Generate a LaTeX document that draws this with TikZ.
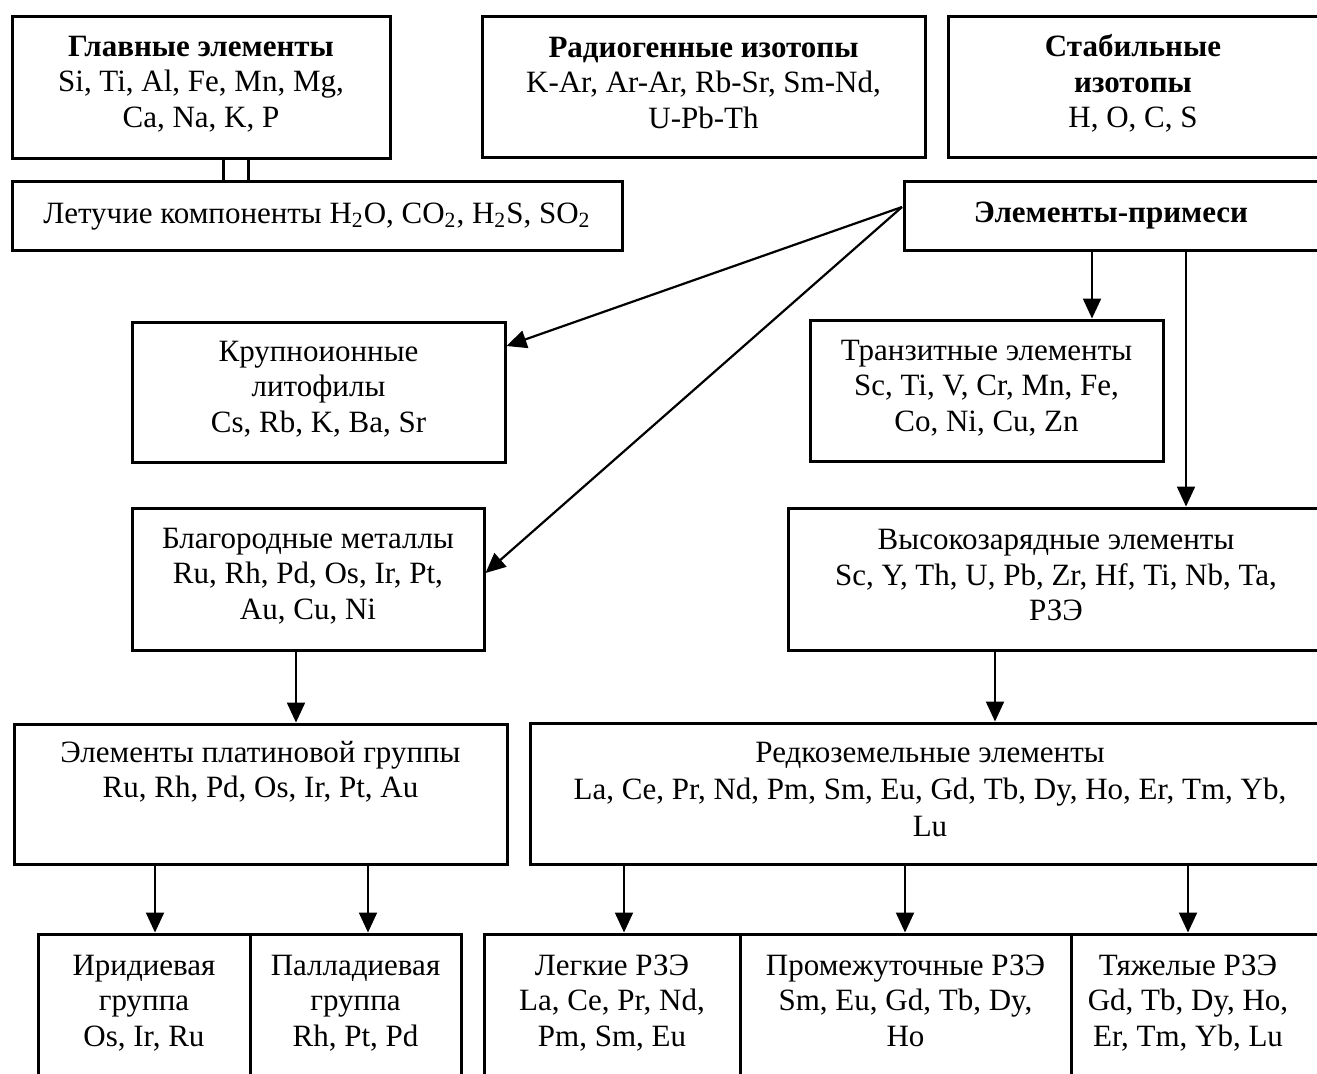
\documentclass[tikz,border=0pt]{standalone}
\usepackage{fontspec}
\setmainfont{Liberation Serif}
\usetikzlibrary{fit,arrows.meta}
\begin{document}
\begin{tikzpicture}[x=0.5pt,y=-0.5pt,
  box/.style={draw, line width=1.5pt, inner sep=0pt},
  txt/.style={inner sep=0pt, align=center,
    font=\fontsize{15.5pt}{17.75pt}\selectfont},
  link/.style={line width=1.5pt},
  arr/.style={line width=1.1pt, -{Triangle[length=10pt,width=9pt]}}]
\path[use as bounding box, clip] (0,0) rectangle (1317,1073);
\fill[white] (0,0) rectangle (1317,1073);

% boxes
\node[box, fit={(12,16)(390,158)}] (A) {};
\node[box, fit={(482,16)(925,157)}] (B) {};
\node[box, fit={(948,16)(1322,157)}] (C) {};
\node[box, fit={(12,181)(622,250)}] (D) {};
\node[box, fit={(904,181)(1322,250)}] (E) {};
\node[box, fit={(132,322)(505,462)}] (F) {};
\node[box, fit={(810,320)(1163,461)}] (G) {};
\node[box, fit={(132,508)(484,650)}] (H) {};
\node[box, fit={(788,508)(1324,650)}] (I) {};
\node[box, fit={(14,724)(507,864)}] (J) {};
\node[box, fit={(530,723)(1330,864)}] (K) {};
\node[box, fit={(38,934)(250,1111)}] (L1) {};
\node[box, fit={(250,934)(461,1111)}] (L2) {};
\node[box, fit={(484,934)(740,1111)}] (M1) {};
\node[box, fit={(740,934)(1071,1111)}] (M2) {};
\node[box, fit={(1071,934)(1330,1111)}] (M3) {};

% texts
\node[txt] (At) at ([yshift=1.5pt]A.center) {\textbf{Главные элементы}\\Si, Ti, Al, Fe, Mn, Mg,\\Ca, Na, K, P};
\node[txt] (Bt) at ([yshift=2pt]B.center) {\textbf{Радиогенные изотопы}\\K-Ar, Ar-Ar, Rb-Sr, Sm-Nd,\\U-Pb-Th};
\node[txt] (Ct) at ([xshift=-1pt, yshift=1.5pt]C.center) {\textbf{Стабильные}\\\textbf{изотопы}\\H, O, C, S};
\node[txt] (Dt) at ([yshift=-0.5pt]D.center) {Летучие компоненты H\textsubscript{2}O, CO\textsubscript{2}, H\textsubscript{2}S, SO\textsubscript{2}};
\node[txt] (Et) at ([xshift=-1pt]E.center) {\textbf{Элементы-примеси}};
\node[txt] (Ft) at ([yshift=1.5pt]F.center) {Крупноионные\\литофилы\\Cs, Rb, K, Ba, Sr};
\node[txt] (Gt) at ([yshift=1.25pt]G.center) {Транзитные элементы\\Sc, Ti, V, Cr, Mn, Fe,\\Co, Ni, Cu, Zn};
\node[txt] (Ht) at ([yshift=1.5pt]H.center) {Благородные металлы\\Ru, Rh, Pd, Os, Ir, Pt,\\Au, Cu, Ni};
\node[txt] (It) at ([yshift=2pt]I.center) {Высокозарядные элементы\\Sc, Y, Th, U, Pb, Zr, Hf, Ti, Nb, Ta,\\РЗЭ};
\node[txt, anchor=north] (Jt) at ([yshift=-9pt]J.north) {Элементы платиновой группы\\Ru, Rh, Pd, Os, Ir, Pt, Au};
\node[txt, font=\fontsize{15.5pt}{18.5pt}\selectfont] (Kt) at ([yshift=2pt]K.center) {Редкоземельные элементы\\La, Ce, Pr, Nd, Pm, Sm, Eu, Gd, Tb, Dy, Ho, Er, Tm, Yb,\\Lu};
\node[txt, anchor=north] (L1t) at ([yshift=-11pt]L1.north) {Иридиевая\\группа\\Os, Ir, Ru};
\node[txt, anchor=north] (L2t) at ([yshift=-11pt]L2.north) {Палладиевая\\группа\\Rh, Pt, Pd};
\node[txt, anchor=north] (M1t) at ([yshift=-11pt]M1.north) {Легкие РЗЭ\\La, Ce, Pr, Nd,\\Pm, Sm, Eu};
\node[txt, anchor=north] (M2t) at ([yshift=-11pt]M2.north) {Промежуточные РЗЭ\\Sm, Eu, Gd, Tb, Dy,\\Ho};
\node[txt, anchor=north] (M3t) at ([yshift=-11pt]M3.north -| 1188,0) {Тяжелые РЗЭ\\Gd, Tb, Dy, Ho,\\Er, Tm, Yb, Lu};

% connectors
\draw[link] (A.south -| 223,0) -- (D.north -| 223,0);
\draw[link] (A.south -| 248,0) -- (D.north -| 248,0);

\coordinate (Eo) at (902,207);
\draw[arr] (Eo) -- (F.east |- 0,346);
\draw[arr] (Eo) -- (H.east |- 0,573);
\draw[arr] (E.south -| 1092,0) -- (G.north -| 1092,0);
\draw[arr] (E.south -| 1186,0) -- (I.north -| 1186,0);
\draw[arr] (H.south -| 296,0) -- (J.north -| 296,0);
\draw[arr] (I.south -| 995,0) -- (K.north -| 995,0);
\draw[arr] (J.south -| 155,0) -- (L1.north -| 155,0);
\draw[arr] (J.south -| 368,0) -- (L2.north -| 368,0);
\draw[arr] (K.south -| 624,0) -- (M1.north -| 624,0);
\draw[arr] (K.south -| 905,0) -- (M2.north -| 905,0);
\draw[arr] (K.south -| 1188,0) -- (M3.north -| 1188,0);
\end{tikzpicture}
\end{document}
